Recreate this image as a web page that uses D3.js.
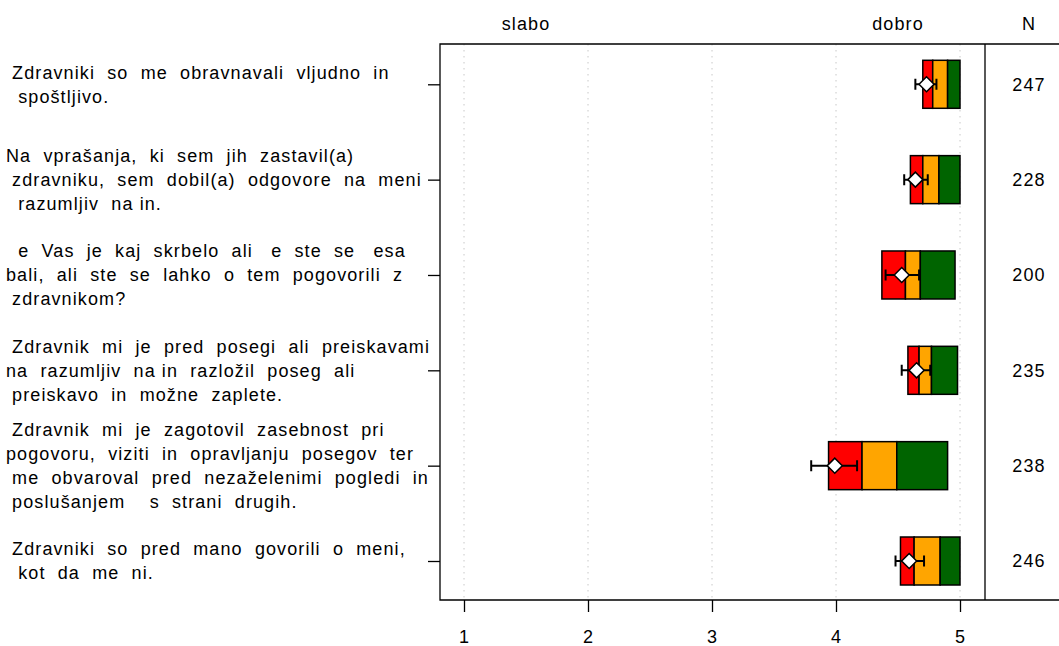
<!DOCTYPE html>
<html>
<head>
<meta charset="utf-8">
<script src="https://cdn.jsdelivr.net/npm/d3@7"></script>
<style>
  body { margin: 0; background: #fff; }
  svg text { font-family: "Liberation Sans", Arial, sans-serif; fill: #000; letter-spacing: 1.1px; }
</style>
</head>
<body>
<div id="chart"></div>
<script>
// question labels, one array of wrapped lines per row (as printed)
const labels = [
  [" Zdravniki  so  me  obravnavali  vljudno  in", "  spoštljivo."],
  ["Na  vprašanja,  ki  sem  jih  zastavil(a)", " zdravniku,  sem  dobil(a)  odgovore  na  meni", "  razumljiv  na in."],
  ["  e  Vas  je  kaj  skrbelo  ali   e  ste  se   esa", "bali,  ali  ste  se  lahko  o  tem  pogovorili  z", " zdravnikom?"],
  [" Zdravnik  mi  je  pred  posegi  ali  preiskavami", "na  razumljiv  na in  razložil  poseg  ali", " preiskavo  in  možne  zaplete."],
  [" Zdravnik  mi  je  zagotovil  zasebnost  pri", "pogovoru,  viziti  in  opravljanju  posegov  ter", " me  obvaroval  pred  nezaželenimi  pogledi  in", " poslušanjem    s  strani  drugih."],
  [" Zdravniki  so  pred  mano  govorili  o  meni,", "  kot  da  me  ni."]
];
// box edges: start | red/orange | orange/green | end
const boxLow  = [4.70, 4.60, 4.37, 4.58, 3.94, 4.52];
const boxMid1 = [4.78, 4.70, 4.56, 4.67, 4.21, 4.63];
const boxMid2 = [4.90, 4.83, 4.68, 4.77, 4.49, 4.84];
const boxHigh = [5.00, 5.00, 4.96, 4.98, 4.90, 5.00];
const means   = [4.73, 4.64, 4.53, 4.65, 3.99, 4.59];
const ciLow   = [4.64, 4.55, 4.40, 4.53, 3.80, 4.48];
const ciHigh  = [4.81, 4.74, 4.67, 4.76, 4.17, 4.71];
const counts  = [247, 228, 200, 235, 238, 246];
const xTicks  = [1, 2, 3, 4, 5];
const headers = [{text: "slabo", v: 1.5}, {text: "dobro", v: 4.5}];
const segColors = ["#ff0000", "#ffa500", "#006400"];

const W = 1059, H = 646,
      mLeft = 440, mTop = 44, mBottom = 600, divider = 985,
      fs = 18, lineH = 24, boxH = 48;

const svg = d3.select("#chart").append("svg")
    .attr("width", W).attr("height", H)
    .attr("viewBox", [0, 0, W, H]);

const x = d3.scaleLinear().domain([1, 5]).range([464, 960]);
const y = d3.scalePoint().domain(d3.range(labels.length)).range([84.3, 561]);

// dotted grid
svg.append("g").selectAll("line").data(xTicks).join("line")
    .attr("x1", d => x(d)).attr("x2", d => x(d))
    .attr("y1", mTop).attr("y2", mBottom)
    .attr("stroke", "#c8c8c8").attr("stroke-dasharray", "1.5,4.5");

// frame
svg.append("path")
    .attr("d", `M${W},${mTop}H${mLeft}V${mBottom}H${W}M${divider},${mTop}V${mBottom}`)
    .attr("fill", "none").attr("stroke", "#000").attr("stroke-width", 1.3);

// x axis
svg.append("g")
    .attr("transform", `translate(0,${mBottom})`)
    .call(d3.axisBottom(x).tickValues(xTicks).tickSize(12).tickPadding(18.5).tickFormat(d3.format("d")))
    .call(g => g.select(".domain").remove())
    .call(g => g.selectAll(".tick line").attr("stroke-width", 1.3))
    .call(g => g.selectAll(".tick text").attr("font-size", fs).style("font-family", "Liberation Sans, Arial, sans-serif"));

// y axis ticks (labels are drawn separately)
svg.append("g")
    .attr("transform", `translate(${mLeft},0)`)
    .call(d3.axisLeft(y).tickSize(12).tickFormat(""))
    .call(g => g.select(".domain").remove())
    .call(g => g.selectAll(".tick line").attr("stroke-width", 1.3));

// header texts
svg.append("g").selectAll("text").data(headers).join("text")
    .attr("x", d => x(d.v)).attr("y", 30)
    .attr("text-anchor", "middle").attr("font-size", fs)
    .text(d => d.text);
svg.append("text")
    .attr("x", 1029).attr("y", 30)
    .attr("text-anchor", "middle").attr("font-size", fs)
    .text("N");

// row labels
labels.forEach((lines, i) => {
  const t = svg.append("text")
      .attr("font-size", fs)
      .attr("xml:space", "preserve")
      .style("white-space", "pre");
  const y0 = y(i) - (lines.length - 1) * lineH / 2;
  lines.forEach((ln, k) => {
    t.append("tspan").attr("x", 6).attr("y", y0 + k * lineH).attr("dy", "0.35em").text(ln);
  });
});

// boxes
const rows = labels.map((_, i) => ({
  i, edges: [boxLow[i], boxMid1[i], boxMid2[i], boxHigh[i]],
  mean: means[i], lo: ciLow[i], hi: ciHigh[i], n: counts[i]
}));

const row = svg.append("g").selectAll("g").data(rows).join("g")
    .attr("transform", d => `translate(0,${y(d.i)})`);

row.selectAll("rect").data(d => segColors.map((c, k) => ({c, a: d.edges[k], b: d.edges[k + 1]})))
  .join("rect")
    .attr("x", d => x(d.a)).attr("width", d => x(d.b) - x(d.a))
    .attr("y", -boxH / 2).attr("height", boxH)
    .attr("fill", d => d.c).attr("stroke", "#000").attr("stroke-width", 1.5);

// confidence interval
row.append("path")
    .attr("d", d => `M${x(d.lo)},0H${x(d.hi)}M${x(d.lo)},-5.5V5.5M${x(d.hi)},-5.5V5.5`)
    .attr("fill", "none").attr("stroke", "#000").attr("stroke-width", 2);

// mean diamond
row.append("path")
    .attr("d", d => `M${x(d.mean) - 7.5},0L${x(d.mean)},-7.5L${x(d.mean) + 7.5},0L${x(d.mean)},7.5Z`)
    .attr("fill", "#fff").attr("stroke", "#000").attr("stroke-width", 1.5);

// N column
row.append("text")
    .attr("x", 1029).attr("dy", "0.35em")
    .attr("text-anchor", "middle").attr("font-size", fs)
    .text(d => d.n);
</script>
</body>
</html>
